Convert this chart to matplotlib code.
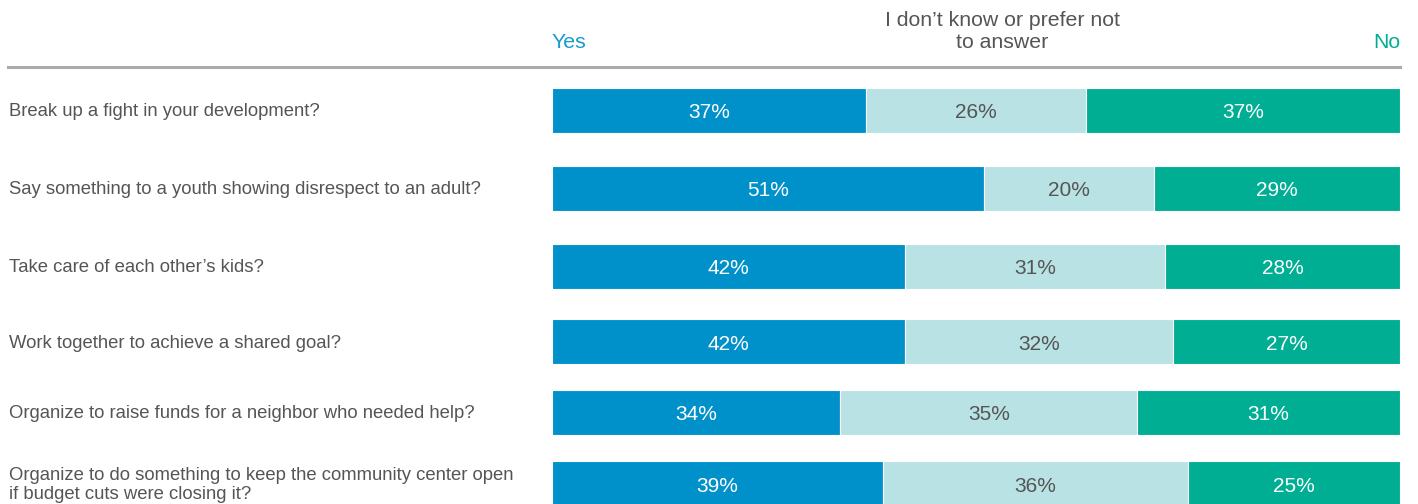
import numpy as np
import matplotlib.pyplot as plt
from matplotlib.transforms import blended_transform_factory

plt.rcParams['font.family'] = ['Liberation Sans', 'DejaVu Sans']

# --------------------------
# Data
# --------------------------
questions = [
    "Break up a fight in your development?",
    "Say something to a youth showing disrespect to an adult?",
    "Take care of each other\u2019s kids?",
    "Work together to achieve a shared goal?",
    "Organize to raise funds for a neighbor who needed help?",
    "Organize to do something to keep the community center open\nif budget cuts were closing it?",
]
yes = [37, 51, 42, 42, 34, 39]
dont_know = [26, 20, 31, 32, 35, 36]
no = [37, 29, 28, 27, 31, 25]

series_names = ["Yes", "I don\u2019t know or prefer not\nto answer", "No"]

# --------------------------
# Style
# --------------------------
C_YES = "#0091CA"
C_DK = "#B9E2E4"
C_NO = "#00AE94"
C_TEXT = "#555555"
W, H = 1418, 504
BAR_X0, BAR_X1 = 552, 1400
ROW_Y = [110, 188, 266, 341, 412, 483]   # row centres in pixels
BAR_H = 45

fig = plt.figure(figsize=(W / 100, H / 100), dpi=100)
ax = fig.add_axes([BAR_X0 / W, 0, (BAR_X1 - BAR_X0) / W, 1])
ax.set_xlim(0, 100)
ax.set_ylim(H, 0)
ax.axis("off")

vals = np.array([yes, dont_know, no], dtype=float)
share = vals / vals.sum(axis=0) * 100
colors = [C_YES, C_DK, C_NO]
txt_colors = ["white", C_TEXT, "white"]

left = np.zeros(len(questions))
for k in range(3):
    ax.barh(ROW_Y, share[k], left=left, height=BAR_H, color=colors[k],
            edgecolor="white", linewidth=0.8)
    for i, y in enumerate(ROW_Y):
        ax.text(left[i] + share[k][i] / 2, y + 1, f"{int(vals[k][i])}%",
                ha="center", va="center_baseline", fontsize=15, color=txt_colors[k])
    left += share[k]

# row labels on the left, in figure pixel x / data y
tr = blended_transform_factory(fig.transFigure, ax.transData)
for q, y in zip(questions, ROW_Y):
    ax.text(9 / W, y + 2, q, transform=tr, ha="left", va="center",
            fontsize=13.3, color=C_TEXT, linespacing=1.15)

# header
ax.text(0, 42, series_names[0], ha="left", va="center", fontsize=15.3, color="#1A9AD0")
ax.text(100, 42, series_names[2], ha="right", va="center", fontsize=15.3, color=C_NO)
ax.text(53.1, 32, series_names[1], ha="center", va="center", fontsize=15.3,
        color=C_TEXT, linespacing=1.2)

# separator line under header
fig.add_artist(plt.Line2D([8 / W, BAR_X1 / W], [1 - 66.5 / H, 1 - 66.5 / H],
                          color="#ABABAB", linewidth=2.2))

fig.savefig("out.png", dpi=100)
